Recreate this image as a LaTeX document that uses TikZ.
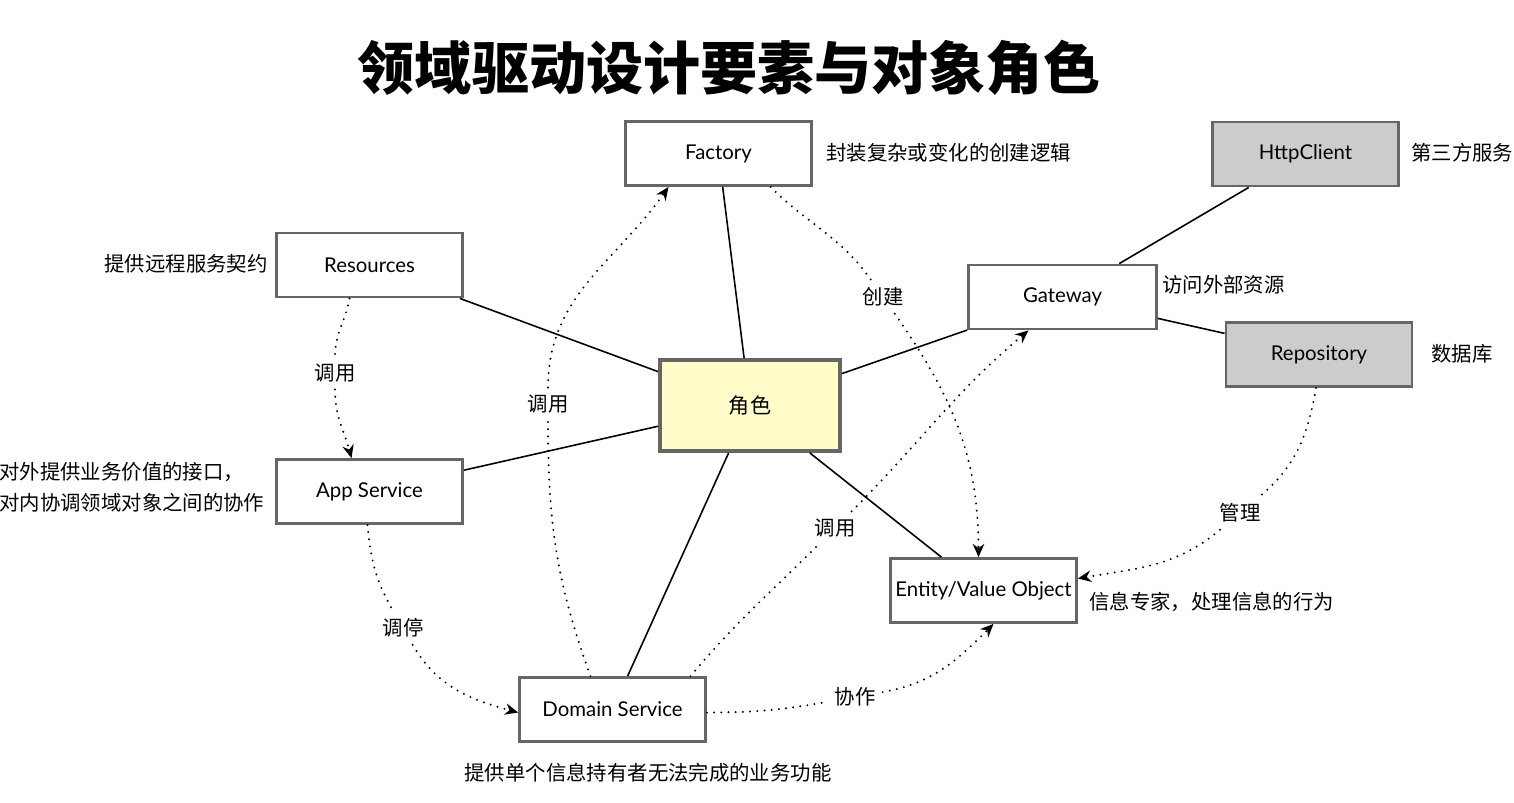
\documentclass[tikz,border=0pt]{standalone}
\usepackage{fontspec}
\setmainfont{Lato}
\newfontfamily\cjk{Noto Sans CJK SC}
\usetikzlibrary{arrows.meta,calc}
\definecolor{boxline}{HTML}{666666}
\definecolor{rolefill}{HTML}{FFFCC9}
\definecolor{extfill}{HTML}{CCCCCC}
\begin{document}
\begin{tikzpicture}[x=0.02cm,y=0.02cm,
  box/.style={draw=boxline, line width=1.6pt, fill=white, minimum width=3.72cm,
    minimum height=1.28cm, inner sep=0pt, font=\fontsize{11.6}{14}\selectfont},
  rolebox/.style={box, fill=rolefill, line width=2.2pt, minimum width=3.6cm,
    minimum height=1.82cm, font=\cjk\fontsize{12}{14}\selectfont},
  extbox/.style={box, fill=extfill},
  note/.style={font=\cjk\fontsize{11.6}{17.6}\selectfont, inner sep=0pt},
  link/.style={line width=0.9pt},
  flow/.style={line width=1.25pt, line cap=round, dash pattern=on 0pt off 4.1pt},
  flowarrow/.style={flow, -{Stealth[length=7.5pt,width=6.5pt]}},
  elabel/.style={note, fill=white, inner sep=4pt}
]
\useasboundingbox (0,0) rectangle (1514,-802);

% title
\node[font=\cjk\bfseries\fontsize{32.5}{36}\selectfont] (title) at (729,-68) {领域驱动设计要素与对象角色};

% boxes
\node[box] (fac) at (718.5,-153.5) {Factory};
\node[box] (res) at (369.5,-265) {Resources};
\node[rolebox] (role) at (750,-405.5) {角色};
\node[box] (app) at (369.5,-491.5) {App Service};
\node[box] (dom) at (612.5,-709.5) {Domain Service};
\node[box] (ent) at (983.5,-590.5) {Entity/Value Object};
\node[box, minimum width=3.76cm] (gw) at (1062.5,-297) {Gateway};
\node[extbox] (http) at (1305.5,-154) {HttpClient};
\node[extbox] (repo) at (1319,-354.5) {Repository};

% notes beside the boxes
\node[note, anchor=west] (nfac) at (826,-153) {封装复杂或变化的创建逻辑};
\node[note, anchor=west] (nhttp) at (1411,-153) {第三方服务};
\node[note, anchor=east] (nres) at (268,-264) {提供远程服务契约};
\node[note, anchor=west] (ngw) at (1162,-285) {访问外部资源};
\node[note, anchor=west] (nrepo) at (1431,-354) {数据库};
\node[note, anchor=west, align=left] (napp) at (-1,-487) {对外提供业务价值的接口，\\对内协调领域对象之间的协作};
\node[note, anchor=west] (nent) at (1089,-602) {信息专家，处理信息的行为};
\node[note] (ndom) at (648,-773) {提供单个信息持有者无法完成的业务功能};

% solid links to the role and to the outside services
\draw[link] (fac) -- (role);
\draw[link] (res) -- (role);
\draw[link] (app) -- (role);
\draw[link] (dom) -- (role);
\draw[link] (role) -- (ent);
\draw[link] (role) -- (gw);
\draw[link] (gw) -- (http);
\draw[link] (gw) -- (repo);

% labels on the dotted flows
\node[elabel] (l1) at (335,-373) {调用};
\node[elabel] (l2) at (548,-404) {调用};
\node[elabel] (l3) at (883,-297) {创建};
\node[elabel] (l4) at (835,-528) {调用};
\node[elabel] (l5) at (403,-628) {调停};
\node[elabel] (l6) at (855,-697) {协作};
\node[elabel] (l7) at (1240,-513) {管理};

% dotted flows
\draw[flow] ($(res.south)+(-20,0)$) to[out=-100,in=90] (l1);
\draw[flowarrow] (l1) to[out=-90,in=105] ($(app.north)+(-18,0)$);

\draw[flow] ($(dom.north)+(-22,0)$) to[out=110,in=-90] (l2);
\draw[flowarrow] (l2) to[out=90,in=-125] ($(fac.south)+(-50,0)$);

\draw[flow] ($(fac.south)+(52,0)$) to[out=-45,in=125] (l3);
\draw[flowarrow] (l3) to[out=-55,in=90] ($(ent.north)+(-5,0)$);

\draw[flow] ($(dom.north)+(78,0)$) to[out=50,in=-135] (l4);
\draw[flowarrow] (l4) to[out=45,in=-140] ($(gw.south)+(-34,0)$);

\draw[flow] ($(app.south)+(-2,0)$) to[out=-85,in=120] (l5);
\draw[flowarrow] (l5) to[out=-60,in=165] ($(dom.west)+(0,-3)$);

\draw[flow] ($(dom.east)+(0,-3)$) to[out=0,in=190] (l6);
\draw[flowarrow] (l6) to[out=10,in=-135] ($(ent.south)+(10,0)$);

\draw[flow] ($(repo.south)+(-3,0)$) to[out=-100,in=40] (l7);
\draw[flowarrow] (l7) to[out=-140,in=10] ($(ent.east)+(0,12)$);
\end{tikzpicture}
\end{document}
